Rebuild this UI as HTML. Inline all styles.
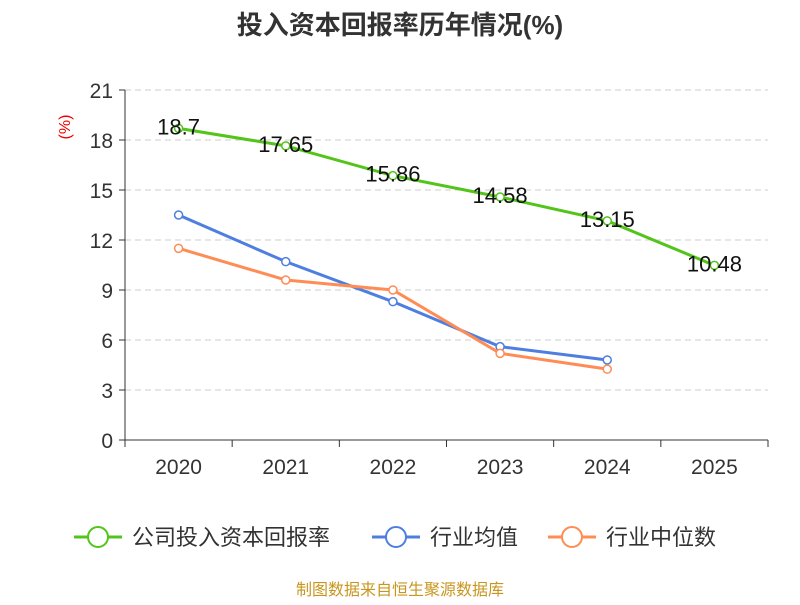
<!DOCTYPE html>
<html><head><meta charset="utf-8"><style>
body{margin:0;background:#fff;}
svg text{font-family:"Liberation Sans","Noto Sans CJK SC",sans-serif;}
</style></head><body>
<svg id="chart" width="800" height="600" xmlns="http://www.w3.org/2000/svg">
<text x="400" y="34" text-anchor="middle" font-size="26" font-weight="bold" fill="#333">投入资本回报率历年情况(%)</text>
<text x="70" y="127" text-anchor="middle" font-size="16" fill="#e00" transform="rotate(-90 70 127)">(%)</text>
<g id="grid"></g><g id="axes"></g><g id="series"></g>
<g>
<g><line x1="74" y1="537" x2="122" y2="537" stroke="#52c41a" stroke-width="3"/><circle cx="98" cy="537" r="10" fill="#fff" stroke="#52c41a" stroke-width="2"/><text x="132" y="545" font-size="22" fill="#333">公司投入资本回报率</text></g>
<g><line x1="372" y1="537" x2="420" y2="537" stroke="#4e7fe0" stroke-width="3"/><circle cx="396" cy="537" r="10" fill="#fff" stroke="#4e7fe0" stroke-width="2"/><text x="430" y="545" font-size="22" fill="#333">行业均值</text></g>
<g><line x1="548" y1="537" x2="596" y2="537" stroke="#ff8c55" stroke-width="3"/><circle cx="572" cy="537" r="10" fill="#fff" stroke="#ff8c55" stroke-width="2"/><text x="606" y="545" font-size="22" fill="#333">行业中位数</text></g>
</g>
<text x="400" y="595" text-anchor="middle" font-size="16" fill="#c8961e">制图数据来自恒生聚源数据库</text>
</svg>
<script>
const categories=["2020","2021","2022","2023","2024","2025"];
const companyValues=[18.7,17.65,15.86,14.58,13.15,10.48];
const avgValues=[13.5,10.7,8.3,5.6,4.8];
const medianValues=[11.5,9.6,9.0,5.2,4.25];
const yTicks=[0,3,6,9,12,15,18,21];
const NS="http://www.w3.org/2000/svg";
const x0=125,x1=768,y0=440,y1=90;
const xs=i=>x0+(i+0.5)*(x1-x0)/categories.length;
const ys=v=>y0-(v/21)*(y0-y1);
function mk(t,a,p){const e=document.createElementNS(NS,t);for(const k in a)e.setAttribute(k,a[k]);p.appendChild(e);return e;}
const grid=document.getElementById('grid'),axes=document.getElementById('axes'),ser=document.getElementById('series');
yTicks.forEach(v=>{const y=ys(v);
 if(v>0){const g=mk('line',{x1:x0,x2:x1,y1:y,y2:y,stroke:'#ccc','stroke-dasharray':'6,4'},grid);
 
 }
 mk('line',{x1:x0-6,x2:x0,y1:y,y2:y,stroke:'#333'},axes);
 const t=mk('text',{x:x0-12,y:y+8,'text-anchor':'end','font-size':21,fill:'#333'},axes);t.textContent=v;
 
 });
mk('line',{x1:x0,x2:x0,y1:y1,y2:y0,stroke:'#333'},axes);
mk('line',{x1:x0,x2:x1,y1:y0,y2:y0,stroke:'#333'},axes);
for(let i=0;i<=categories.length;i++){const x=x0+i*(x1-x0)/categories.length;mk('line',{x1:x,x2:x,y1:y0,y2:y0+7,stroke:'#333'},axes);}
categories.forEach((c,i)=>{const t=mk('text',{x:xs(i),y:474,'text-anchor':'middle','font-size':21,fill:'#333'},axes);t.textContent=c;
 
 });
function series(vals,color,name,labels){
 const pts=vals.map((v,i)=>xs(i)+','+ys(v)).join(' ');
 const pl=mk('polyline',{points:pts,fill:'none',stroke:color,'stroke-width':3},ser);
 
 
 vals.forEach((v,i)=>{const c=mk('circle',{cx:xs(i),cy:ys(v),r:4,fill:'#fff',stroke:color,'stroke-width':1.5},ser);
  
  
  if(labels){const t=mk('text',{x:xs(i),y:ys(v)+6,'text-anchor':'middle','font-size':22,fill:'#111'},ser);t.textContent=v;
  
  }});
}
series(avgValues,'#4e7fe0','industry-avg',false);
series(medianValues,'#ff8c55','industry-median',false);
series(companyValues,'#52c41a','company',true);
</script>
</body></html>
